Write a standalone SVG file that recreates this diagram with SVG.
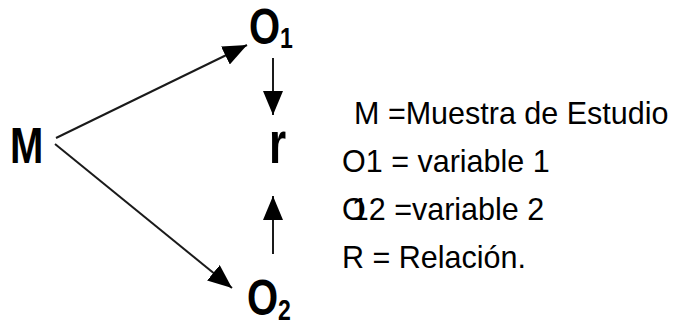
<svg xmlns="http://www.w3.org/2000/svg" width="683" height="322" viewBox="0 0 683 322">
<style>
.lbl{font-family:"Liberation Sans",Arial,sans-serif;font-weight:bold;fill:#000}
.leg{font-family:"Liberation Sans",Arial,sans-serif;font-size:30.5px;fill:#000}
.edge{stroke:#1a1a1a;stroke-width:2;fill:none}
</style>
<defs>
<marker id="ahb" viewBox="0 0 24 20" refX="24" refY="10" markerWidth="24" markerHeight="20" markerUnits="userSpaceOnUse" orient="auto">
<path d="M0,0 L24,10 L0,20 Z" fill="#000"/>
</marker>
</defs>
<rect width="683" height="322" fill="#fff"/>
<g id="connectors">
<line class="edge" x1="56" y1="138" x2="247" y2="45" marker-end="url(#ahb)"/>
<line class="edge" x1="55" y1="144" x2="232" y2="288" marker-end="url(#ahb)"/>
<line class="edge" x1="273" y1="58" x2="273" y2="115" marker-end="url(#ahb)"/>
<line class="edge" x1="273" y1="254" x2="273" y2="196" marker-end="url(#ahb)"/>
</g>
<g id="node-M"><text class="lbl" transform="translate(10,163) scale(1,1.25)" font-size="40">M</text></g>
<g id="node-O1"><text class="lbl" transform="translate(249,44) scale(1,1.25)" font-size="40">O<tspan font-size="23" dy="3">1</tspan></text></g>
<g id="node-r"><text class="lbl" transform="translate(269,163) scale(1,1.35)" font-size="44">r</text></g>
<g id="node-O2"><text class="lbl" transform="translate(247,315) scale(1,1.25)" font-size="40">O<tspan font-size="23" dy="4">2</tspan></text></g>
<g id="legend">
<text class="leg" x="354" y="124">M =Muestra de Estudio</text>
<text class="leg" x="342" y="172">O1 = variable 1</text>
<text class="leg" x="342" y="220">O<tspan dx="-14">1</tspan>2 =variable 2</text>
<text class="leg" x="342" y="268">R = Relación.</text>
</g>
</svg>
